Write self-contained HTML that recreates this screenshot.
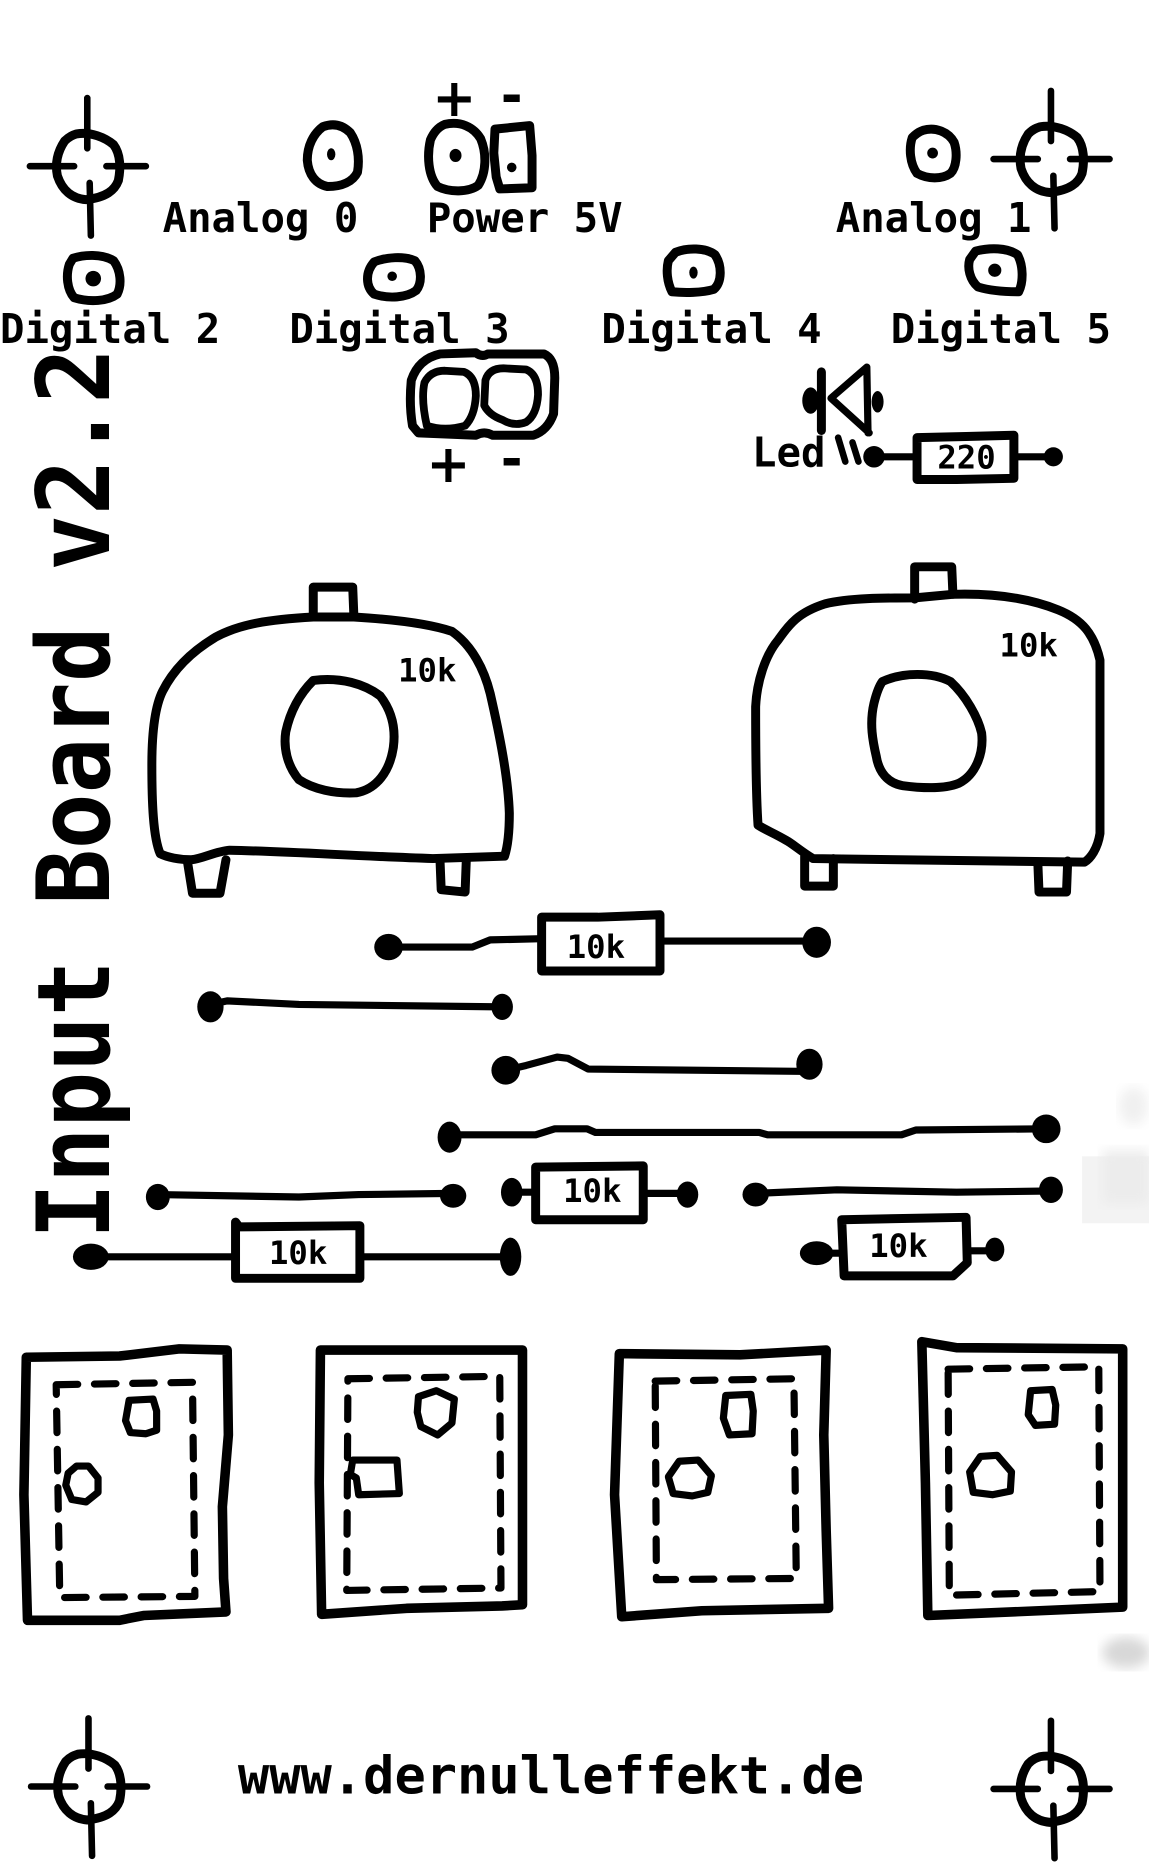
<!DOCTYPE html>
<html>
<head>
<meta charset="utf-8">
<style>
  html, body { margin:0; padding:0; background:#fff; }
  body { width:1149px; height:1875px; overflow:hidden; position:relative; }
  svg { position:absolute; left:0; top:0; }
  .m { font-family:"DejaVu Sans Mono","Liberation Mono",monospace; font-weight:bold; fill:#000; }
  .s { font-family:"DejaVu Sans","Liberation Sans",sans-serif; font-weight:bold; fill:#000; }
</style>
</head>
<body>
<svg width="1149" height="1875" viewBox="0 0 961 1568" preserveAspectRatio="none" xmlns="http://www.w3.org/2000/svg">
  <defs>
    <g id="cross">
      <path d="M-10,-27 C2,-29 14,-24 21,-18 C27,-10 27,2 25,12 C22,20 15,26 -2,28 C-14,27 -22,20 -26,8 C-28,-2 -26,-12 -20,-21 C-16,-25 -13,-26 -10,-27 Z" fill="none" stroke="#000" stroke-width="7.5" stroke-linejoin="round"/>
      <path d="M-49,0 L-12,0 M15,0 L48,0 M-1,-57 L-1,-15 M1,14 L2,58" stroke="#000" stroke-width="5.5" stroke-linecap="round" fill="none"/>
    </g>
    <filter id="blur"><feGaussianBlur stdDeviation="5"/></filter>
  </defs>

  <!-- faint smudges -->
  <rect x="905" y="967" width="56" height="56" fill="#f3f3f3"/>
  <rect x="922" y="962" width="39" height="45" fill="#ececec" filter="url(#blur)"/>
  <ellipse cx="942" cy="1382" rx="20" ry="13" fill="#d8d8d8" filter="url(#blur)"/>
  <ellipse cx="948" cy="925" rx="12" ry="16" fill="#f0f0f0" filter="url(#blur)"/>

  <!-- crosshairs -->
  <use href="#cross" transform="translate(74,139)"/>
  <use href="#cross" transform="translate(880,133)"/>
  <use href="#cross" transform="translate(75,1494)"/>
  <use href="#cross" transform="translate(880,1496)"/>

  <g fill="none" stroke="#000" stroke-width="7.5" stroke-linejoin="round" stroke-linecap="round">
    <!-- top pads -->
    <path d="M270,106 C278,103 286,104 293,111 C299,120 301,132 299,144 C295,152 286,156 274,156 C264,154 258,146 257,134 C257,122 262,112 270,106 Z"/>
    <path d="M372,104 C385,101 396,106 402,116 C407,128 407,144 400,155 C392,161 376,161 366,156 C358,147 357,130 360,117 C363,110 367,106 372,104 Z"/>
    <path d="M414,108 L443,105 L445,130 L445,157 L418,158 L415,148 L413,128 Z"/>
    <path d="M772,109 C782,106 793,110 798,119 C801,128 800,140 795,145 C788,150 776,150 767,145 C761,137 760,124 763,115 C766,112 769,110 772,109 Z"/>
    <path d="M61,216 C70,213 85,212 95,218 C101,226 102,238 98,246 C90,252 75,253 62,249 C56,242 55,230 58,221 Z"/>
    <path d="M313,219 C323,215 338,214 347,218 C353,225 353,237 348,243 C340,249 325,250 313,246 C306,240 305,228 313,219 Z"/>
    <path d="M565,211 C575,207 590,207 598,213 C604,222 604,236 597,242 C587,245 572,245 562,244 C558,236 557,226 559,218 Z"/>
    <path d="M816,210 C828,207 842,207 851,213 C856,222 856,236 852,244 C842,244 828,243 818,240 C811,234 809,224 811,217 Z"/>

    <!-- battery connector -->
    <path d="M350,362 L345,356 Q342,338 344,318 Q350,300 368,296 L398,295 Q403,299 408,296 L455,296 Q464,300 464,316 L463,346 Q458,360 446,364 L412,364 Q405,360 398,364 Z"/>
    <path d="M357,356 Q352,334 355,320 Q360,310 372,310 L388,311 Q398,315 398,331 Q397,348 389,356 Q372,361 357,356 Z" stroke-width="6.5"/>
    <path d="M406,318 Q409,308 421,308 L440,309 Q450,313 450,330 Q449,347 440,353 Q430,357 420,351 Q409,347 405,339 Z" stroke-width="6.5"/>

    <!-- LED -->
    <path d="M687,311 L687,360"/>
    <path d="M725,307 L695,333 L727,362 M725,307 L726,362" stroke-width="6"/>
    <path d="M701,366 L707,386 M713,370 L718,386" stroke-width="5.5"/>
    <path d="M731,382 L767,382 M848,382 L881,382" stroke-width="6"/>
    <path d="M767,366 L808,365 L848,364 L848,400 L800,401 L767,401 Z"/>

    <!-- pot 1 -->
    <path d="M134,714 C128,700 127,670 127,640 C127,610 130,590 136,578 C145,560 160,545 180,533 C200,522 225,518 262,516 L296,516 C330,518 360,522 378,528 C395,540 405,560 410,580 C418,615 425,650 426,680 C426,700 424,710 422,716 L362,718 C300,716 240,712 192,711 C180,712 170,718 160,719 C150,719 140,717 134,714 Z"/>
    <path d="M262,516 L262,491 L295,491 L296,516"/>
    <path d="M157,722 L161,747 L184,747 L189,719"/>
    <path d="M368,719 L369,744 L389,746 L390,719"/>
    <path d="M262,569 C285,566 305,572 318,582 C328,595 331,610 329,625 C326,645 315,660 298,663 C280,664 262,660 250,652 C240,640 237,625 239,612 C242,598 248,583 262,569 Z"/>

    <!-- pot 2 -->
    <path d="M634,690 C632,660 632,620 632,591 C633,570 640,548 651,535 C660,522 668,512 690,505 C710,500 740,500 765,500 L797,497 C830,496 860,500 885,510 C905,518 915,530 920,552 L920,697 C918,710 912,718 907,721 L680,718 C670,712 662,705 658,703 C648,697 640,694 634,690 Z"/>
    <path d="M765,501 L765,474 L796,474 L797,497"/>
    <path d="M673,716 L673,741 L697,741 L697,718"/>
    <path d="M868,721 L869,746 L892,746 L893,720"/>
    <path d="M738,570 C755,562 780,562 795,570 C808,582 818,600 821,613 C823,630 816,648 802,655 C790,660 770,659 755,657 C742,655 735,645 733,633 C730,620 727,605 731,588 C733,580 735,574 738,570 Z"/>

    <!-- wires -->
    <g stroke-width="6">
      <path d="M325,792 L395,792 L410,786 L453,785"/>
      <path d="M552,787 L683,787"/>
      <path d="M176,840 L190,837 L250,840 L420,842"/>
      <path d="M423,895 L440,891 L466,884 L475,885 L492,894 L677,896"/>
      <path d="M376,949 L448,949 L464,944 L491,944 L498,947 L635,947 L642,949 L754,949 L766,945 L875,944"/>
      <path d="M132,999 L250,1001 L300,999 L379,998"/>
      <path d="M428,997 L448,997 M538,998 L574,998"/>
      <path d="M632,998 L700,995 L800,997 L878,996"/>
      <path d="M75,1051 L197,1051 M301,1051 L427,1051"/>
      <path d="M682,1048 L704,1048 M810,1046 L830,1046"/>
    </g>
    <!-- resistor boxes -->
    <path d="M453,767 L500,767 L552,765 L552,812 L453,812 Z"/>
    <path d="M448,976 L538,975 L538,1020 L448,1020 Z"/>
    <path d="M197,1022 L200,1026 L301,1025 L301,1069 L197,1069 Z"/>
    <path d="M704,1020 L808,1018 L809,1056 L797,1067 L706,1067 Z"/>

    <!-- switches outer -->
    <g stroke-width="8">
      <path d="M22,1135 L100,1134 L150,1128 L190,1129 L191,1200 L186,1260 L187,1320 L189,1348 L120,1351 L100,1355 L23,1355 L20,1250 Z"/>
      <path d="M268,1129 L437,1129 L437,1342 L420,1343 L340,1345 L269,1350 L267,1240 Z"/>
      <path d="M518,1132 L619,1133 L691,1129 L689,1200 L691,1280 L693,1345 L587,1347 L520,1352 L514,1250 Z"/>
      <path d="M771,1122 L800,1127 L939,1128 L939,1344 L776,1351 L774,1240 Z"/>
    </g>
    <!-- switches inner dashed -->
    <g stroke-width="6" stroke-dasharray="18 14">
      <path d="M47,1158 L161,1156 L163,1335 L50,1336 Z"/>
      <path d="M291,1153 L418,1151 L419,1328 L290,1330 Z"/>
      <path d="M548,1155 L664,1153 L666,1320 L549,1321 Z"/>
      <path d="M793,1145 L919,1143 L920,1331 L794,1334 Z"/>
    </g>
    <!-- switch pads -->
    <g stroke-width="6">
      <path d="M108,1171 L128,1170 L131,1180 L131,1196 L122,1199 L109,1198 L105,1188 Z"/>
      <path d="M64,1226 L74,1226 L82,1236 L82,1248 L72,1256 L60,1254 L55,1242 L57,1232 Z"/>
      <path d="M350,1168 L365,1163 L380,1170 L378,1190 L366,1200 L352,1193 L349,1181 Z"/>
      <path d="M295,1221 L332,1221 L334,1249 L300,1250 L298,1236 L293,1233 Z"/>
      <path d="M607,1167 L628,1166 L630,1180 L629,1199 L610,1200 L605,1186 Z"/>
      <path d="M568,1222 L584,1221 L595,1234 L592,1248 L579,1251 L563,1249 L559,1235 Z"/>
      <path d="M862,1163 L880,1162 L883,1175 L882,1191 L866,1192 L860,1183 Z"/>
      <path d="M820,1218 L834,1217 L846,1231 L845,1247 L830,1250 L814,1248 L811,1231 Z"/>
    </g>
  </g>

  <!-- pad dots -->
  <g fill="#000">
    <ellipse cx="277" cy="129" rx="3.5" ry="5"/>
    <ellipse cx="381" cy="130" rx="5" ry="5.5"/>
    <ellipse cx="428" cy="140" rx="4" ry="4"/>
    <circle cx="780" cy="128" r="4.5"/>
    <circle cx="78" cy="233" r="6.5"/>
    <circle cx="328" cy="231" r="4"/>
    <ellipse cx="580" cy="228" rx="3.5" ry="5"/>
    <circle cx="832" cy="226" r="5.5"/>

    <!-- LED blobs -->
    <ellipse cx="678" cy="335" rx="7" ry="11"/>
    <ellipse cx="734" cy="336" rx="5" ry="9"/>
    <circle cx="731" cy="382" r="9"/>
    <circle cx="881" cy="382" r="8"/>

    <!-- wire end dots -->
    <ellipse cx="325" cy="792" rx="12" ry="11"/>
    <ellipse cx="683" cy="788" rx="12" ry="13"/>
    <ellipse cx="176" cy="842" rx="11" ry="13"/>
    <ellipse cx="420" cy="842" rx="9" ry="11"/>
    <ellipse cx="423" cy="895" rx="12" ry="12"/>
    <ellipse cx="677" cy="890" rx="11" ry="13"/>
    <ellipse cx="376" cy="951" rx="10" ry="13"/>
    <circle cx="875" cy="944" r="12"/>
    <ellipse cx="132" cy="1001" rx="10" ry="11"/>
    <ellipse cx="379" cy="1000" rx="11" ry="10"/>
    <ellipse cx="428" cy="997" rx="9" ry="12"/>
    <ellipse cx="575" cy="999" rx="9" ry="11"/>
    <ellipse cx="632" cy="999" rx="11" ry="10"/>
    <ellipse cx="879" cy="995" rx="10" ry="11"/>
    <ellipse cx="76" cy="1051" rx="15" ry="11"/>
    <ellipse cx="427" cy="1051" rx="9" ry="16"/>
    <ellipse cx="683" cy="1048" rx="14" ry="10"/>
    <ellipse cx="832" cy="1045" rx="8" ry="10"/>
  </g>

  <!-- labels -->
  <g class="m" font-size="34">
    <text x="136" y="194">Analog 0</text>
    <text x="357" y="194">Power 5V</text>
    <text x="699" y="194">Analog 1</text>
    <text x="0" y="287">Digital 2</text>
    <text x="242" y="287">Digital 3</text>
    <text x="503" y="287">Digital 4</text>
    <text x="745" y="287">Digital 5</text>
    <text x="629" y="390">Led</text>
  </g>
  <g class="m" font-size="27">
    <text x="333" y="570">10k</text>
    <text x="836" y="549">10k</text>
    <text x="474" y="801">10k</text>
    <text x="471" y="1005">10k</text>
    <text x="225" y="1057">10k</text>
    <text x="727" y="1051">10k</text>
    <text x="784" y="392">220</text>
  </g>
  <g class="s" font-size="44" text-anchor="middle">
    <text x="380" y="97">+</text>
    <text x="428" y="95">-</text>
    <text x="375" y="403">+</text>
    <text x="428" y="399">-</text>
  </g>
  <text class="m" x="199" y="1500" font-size="43.5">www.dernulleffekt.de</text>
  <text class="m" x="0" y="0" font-size="84" textLength="745" lengthAdjust="spacingAndGlyphs" transform="translate(91,1036) rotate(-90)">Input Board v2.2</text>
</svg>
</body>
</html>
